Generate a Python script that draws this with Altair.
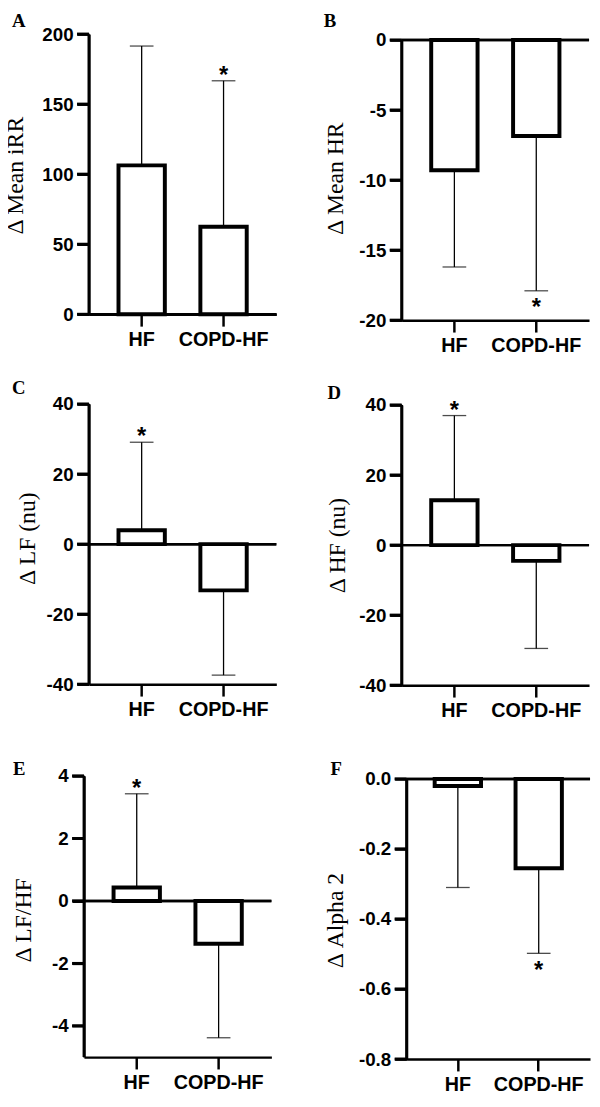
import altair as alt
import pandas as pd

groups = ["HF", "COPD-HF"]

# Panel A: Δ Mean iRR
a_mean = [106.3, 62.5]
a_err = [191.5, 166.7]
a_star = ["", "*"]
a_ticks = [0, 50, 100, 150, 200]

# Panel B: Δ Mean HR
b_mean = [-9.3, -6.85]
b_err = [-16.2, -17.9]
b_star = ["", "*"]
b_ticks = [0, -5, -10, -15, -20]

# Panel C: Δ LF (nu)
c_mean = [3.95, -13.2]
c_err = [29.1, -37.4]
c_star = ["*", ""]
c_ticks = [40, 20, 0, -20, -40]

# Panel D: Δ HF (nu)
d_mean = [12.8, -4.5]
d_err = [37.0, -29.5]
d_star = ["*", ""]
d_ticks = [40, 20, 0, -20, -40]

# Panel E: Δ LF/HF
e_mean = [0.43, -1.37]
e_err = [3.43, -4.38]
e_star = ["*", ""]
e_ticks = [4, 2, 0, -2, -4]

# Panel F: Δ Alpha 2
f_mean = [-0.02, -0.255]
f_err = [-0.31, -0.498]
f_star = ["", "*"]
f_ticks = [0.0, -0.2, -0.4, -0.6, -0.8]

SANS = "Liberation Sans"
SERIF = "Liberation Serif"
S = 14  # room kept inside each cell for the y-axis tick marks

AXIS_STYLE = dict(
    domain=True, domainColor="black", domainWidth=2.5,
    ticks=True, tickColor="black", tickWidth=2.5, tickSize=12,
    labelFont=SANS, labelFontWeight="bold",
    labelColor="black", grid=False, zindex=1,
)


def panel(letter, title, mean, err, star, domain, ticks, fmt, height,
          yrange, xrange, axis_offset, title_x, title_y, letter_x, letter_y,
          pad_inner=0.434, pad_outer=0.3615, anchor=False):
    df = pd.DataFrame({"group": groups, "mean": mean, "err": err, "star": star})
    df["zero"] = 0.0
    xr = [xrange[0] + S, xrange[1] + S]
    xscale = alt.Scale(domain=groups, paddingInner=pad_inner,
                       paddingOuter=pad_outer, range=xr)
    if yrange is None:
        yscale = alt.Scale(domain=domain, nice=False, zero=False)
    else:
        yscale = alt.Scale(domain=domain, nice=False, zero=False, range=yrange)
    x = alt.X("group:N", scale=xscale, sort=groups,
              axis=alt.Axis(title=None, labelAngle=0, labelPadding=4,
                            labelFontSize=20, **AXIS_STYLE))
    y = alt.Y("mean:Q", scale=yscale,
              axis=alt.Axis(values=ticks, format=fmt,
                            labelExpr="replace(datum.label, '\u2212', '-')",
                            labelPadding=4, labelFontSize=19, title=title,
                            titleX=title_x, titleY=title_y, titleAngle=-90,
                            titleAlign="center", titleBaseline="alphabetic",
                            titleFont=SERIF, titleFontWeight="normal",
                            titleFontSize=24, titleColor="black",
                            offset=axis_offset - S, **AXIS_STYLE))
    base = alt.Chart(df)
    bars = base.mark_bar(fill="white", stroke="black", strokeWidth=4).encode(
        x=x, y=y, y2="zero:Q")
    stem = base.mark_rule(color="black", strokeWidth=1.3).encode(
        x="group:N", y="mean:Q", y2="err:Q")
    cap = base.mark_tick(color="black", thickness=1.3, size=24,
                         orient="horizontal").encode(x="group:N", y="err:Q")
    star_up = base.transform_filter(
        "datum.star != '' && datum.err > 0").mark_text(
        font=SANS, fontWeight="bold", fontSize=24, baseline="alphabetic",
        dy=2, color="black").encode(x="group:N", y="err:Q", text="star:N")
    star_dn = base.transform_filter(
        "datum.star != '' && datum.err < 0").mark_text(
        font=SANS, fontWeight="bold", fontSize=24, baseline="alphabetic",
        dy=25, color="black").encode(x="group:N", y="err:Q", text="star:N")
    zero_rule = base.mark_rule(color="black", strokeWidth=2.5).encode(
        y="zero:Q", x=alt.value(xr[0]), x2=alt.value(xr[1]))
    # y-axis line and tick marks, drawn from the tick values through the y scale
    ax_x = S - axis_offset
    tdf = pd.DataFrame({"v": ticks})
    ytick = alt.Chart(tdf).mark_rule(color="black", strokeWidth=2.8).encode(
        y="v:Q", x=alt.value(ax_x - 12), x2=alt.value(ax_x))
    ytick2 = alt.Chart(tdf).mark_tick(color="black", thickness=3, size=12,
                                      orient="horizontal").encode(
        y="v:Q", x=alt.value(ax_x - 6))
    ddf = pd.DataFrame({"lo": [domain[0]], "hi": [domain[1]]})
    yline = alt.Chart(ddf).mark_rule(color="black", strokeWidth=2.8).encode(
        y="lo:Q", y2="hi:Q", x=alt.value(ax_x))
    lab = alt.Chart(pd.DataFrame({"t": [letter]})).mark_text(
        font=SERIF, fontWeight="bold", fontSize=19, align="left",
        baseline="alphabetic", color="black").encode(
        text="t:N", x=alt.value(letter_x + S), y=alt.value(letter_y))
    layers = [bars, stem, cap, star_up, star_dn, zero_rule, ytick, ytick2,
              yline, lab]
    if anchor:
        # invisible layout anchor fixing the chart's top-left bounds
        anc = alt.Chart(pd.DataFrame({"t": [letter]})).mark_rule(
            opacity=0, strokeWidth=0.01).encode(
            x=alt.value(-100), x2=alt.value(-100),
            y=alt.value(-50), y2=alt.value(-50))
        layers.append(anc)
    return alt.layer(*layers).properties(width=190 + S, height=height)


A = panel("A", "\u0394 Mean iRR", a_mean, a_err, a_star, [0, 200], a_ticks, "d",
          284, None, [0, 190], 0, -67, 143, -78, -7, anchor=True)
B = panel("B", "\u0394 Mean HR", b_mean, b_err, b_star, [-20, 0], b_ticks, "d",
          290, [290, 6], [0, 190], 0, -60, 146, -79, -7)
C = panel("C", "\u0394 LF (nu)", c_mean, c_err, c_star, [-40, 40], c_ticks, "d",
          284, None, [0, 190], 0, -55, 136, -78, -10)
D = panel("D", "\u0394 HF (nu)", d_mean, d_err, d_star, [-40, 40], d_ticks, "d",
          285, [285, 1], [0, 190], 0, -58, 143, -75, -5)
E = panel("E", "\u0394 LF/HF", e_mean, e_err, e_star, [-5, 4], e_ticks, "d",
          292, [292, 7], [-5, 185], 5, -54, 153, -77, 6)
F = panel("F", "\u0394 Alpha 2", f_mean, f_err, f_star, [-0.8, 0], f_ticks, ".1f",
          294, [294, 10], [5, 191], -5, -65, 153, -72, 6,
          pad_inner=0.427, pad_outer=0.348)

chart = alt.concat(A, B, C, D, E, F, columns=2,
                   spacing={"row": 85, "column": 113},
                   bounds="flush", align="each").properties(
    padding={"left": -32, "top": -31, "right": 0, "bottom": 0},
    background="white",
).configure_view(stroke=None)

chart.save("out.html", embed_options={"renderer": "svg", "actions": False})
